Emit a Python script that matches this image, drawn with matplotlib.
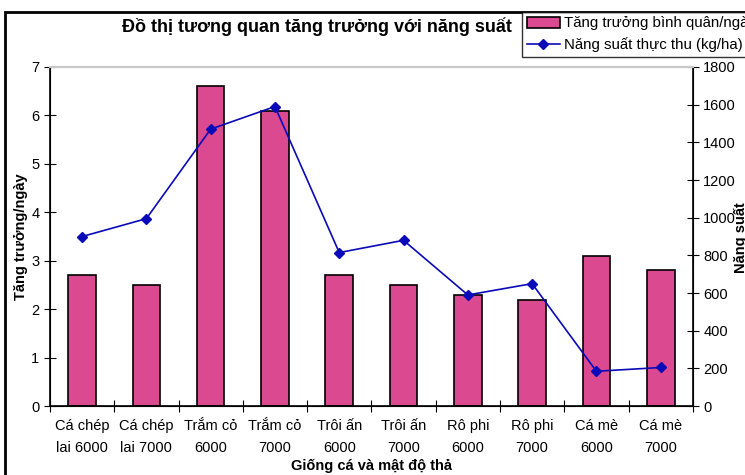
import matplotlib.pyplot as plt
import matplotlib.patches as mpatches
import numpy as np

plt.rcParams['font.family'] = ['Liberation Sans', 'DejaVu Sans']

giong_ca = ['Cá chép\nlai 6000', 'Cá chép\nlai 7000', 'Trắm cỏ\n6000', 'Trắm cỏ\n7000',
            'Trôi ấn\n6000', 'Trôi ấn\n7000', 'Rô phi\n6000', 'Rô phi\n7000',
            'Cá mè\n6000', 'Cá mè\n7000']
tang_truong = [2.7, 2.5, 6.6, 6.1, 2.7, 2.5, 2.3, 2.2, 3.1, 2.8]
nang_suat = [900, 995, 1470, 1590, 815, 880, 590, 650, 185, 205]

fig = plt.figure(figsize=(7.45, 4.75), dpi=100)
ax = fig.add_axes([0.067, 0.145, 0.863, 0.714])
ax2 = ax.twinx()

x = np.arange(len(giong_ca))
bars = ax.bar(x, tang_truong, width=0.43, color='#DB4990', edgecolor='black',
              linewidth=1.2, zorder=2, label='Tăng trưởng bình quân/ngày')
line, = ax2.plot(x, nang_suat, color='#0A0AB8', marker='D', markersize=5,
                 linewidth=1.2, label='Năng suất thực thu (kg/ha)')

ax.set_xlim(-0.5, len(giong_ca) - 0.5)
ax.set_ylim(0, 7)
ax2.set_ylim(0, 1800)
ax.set_yticks(range(0, 8))
ax2.set_yticks(range(0, 1801, 200))
ax.set_xticks(np.arange(-0.5, len(giong_ca), 1))
ax.set_xticklabels([])
ax.set_xticks(x, minor=True)
ax.set_xticklabels(giong_ca, minor=True, fontsize=10.5, linespacing=1.75)
ax.tick_params(axis='x', which='minor', length=0, pad=9)
ax.tick_params(axis='x', which='major', direction='inout', length=8)
ax.tick_params(axis='y', direction='inout', length=8, labelsize=10.5)
ax2.tick_params(axis='y', direction='inout', length=8, labelsize=10.5)

for a in (ax, ax2):
    a.spines['top'].set_color('#C8C8C8')
    a.spines['top'].set_linewidth(1.5)
ax.spines['left'].set_linewidth(1.2)
ax2.spines['right'].set_linewidth(1.2)
ax.spines['bottom'].set_linewidth(1.2)

ax.set_ylabel('Tăng trưởng/ngày', fontsize=10.5, fontweight='bold', labelpad=2)
ax.set_xlabel('Giống cá và mật độ thả', fontsize=10.5, fontweight='bold', labelpad=3)
fig.text(0.994, 0.5, 'Năng suất', rotation=90, fontsize=10.5, fontweight='bold',
         ha='center', va='center')

fig.text(317 / 745, 1 - 27 / 475, 'Đồ thị tương quan tăng trưởng với năng suất',
         fontsize=13, fontweight='bold', ha='center', va='center')

leg = fig.legend(handles=[bars, line], loc='upper left',
                 bbox_to_anchor=(522 / 745, 1 - 12 / 475), fontsize=10.8,
                 frameon=True, fancybox=False, borderpad=0.3, labelspacing=0.45,
                 handlelength=2.2, handletextpad=0.3, borderaxespad=0)
leg.get_frame().set_edgecolor('black')
leg.get_frame().set_linewidth(1)

fig.add_artist(mpatches.Rectangle((5 / 745, -0.2), 1.2, 1.2 - 12 / 475,
                                  transform=fig.transFigure, fill=False,
                                  edgecolor='black', linewidth=2))

fig.savefig('out.png', dpi=100)
